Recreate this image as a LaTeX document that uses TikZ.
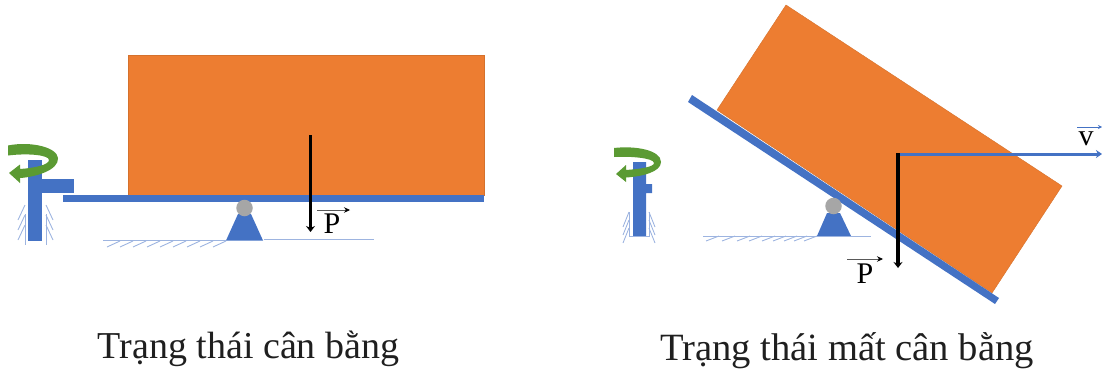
\documentclass[tikz,border=0pt]{standalone}
\usepackage{fontspec}
\setmainfont{Liberation Serif}
\usetikzlibrary{arrows.meta}
\definecolor{boxor}{HTML}{ED7D31}
\definecolor{beamb}{HTML}{4472C4}
\definecolor{rotg}{HTML}{5B9A33}
\definecolor{hatchb}{HTML}{9DB4E0}
\tikzset{
  boxfill/.style={fill=boxor,draw=boxor!90!black,line width=0.4pt},
  bluepart/.style={fill=beamb,draw=none},
  ball/.style={circle,fill=black!35,draw=none,minimum size=16.5pt,inner sep=0pt},
  hatchline/.style={draw=hatchb,line width=0.9pt},
  force/.style={draw=black,line width=3.2pt,-{Stealth[length=6pt,width=9pt]}},
  vecbar/.style={draw=black!65,line width=0.7pt,-{Stealth[length=6pt,width=5.5pt,color=black]}},
  captext/.style={font=\fontsize{38pt}{40pt}\selectfont,text=black!88,inner sep=0pt},
  capwide/.style={font=\fontsize{38.6pt}{40pt}\selectfont,text=black!88,inner sep=0pt},
  sym/.style={font=\fontsize{30pt}{30pt}\selectfont,inner sep=0pt},
  rotarrow/.style={fill=rotg,draw=none}
}
\begin{document}
\begin{tikzpicture}[x=1pt,y=-1pt]
\useasboundingbox (0,0) rectangle (1102,372);
% LEFT
\fill[boxfill] (128,55) rectangle (484,195);
\fill[bluepart] (63,195) rectangle (484,202);
\fill[bluepart] (28,160) rectangle (42,241);
\fill[bluepart] (28,179) rectangle (74,193);
\fill[bluepart] (226,240.5) -- (238,214) -- (251,214) -- (263,240.5) -- cycle;
\node[ball] (ballA) at (244.5,208) {};
\draw[hatchline] (264,239.5) -- (374,239.5);
\draw[hatchline] (103,240) -- (226,240);
\foreach \x in {107,120,133,147,160,173,187,200,213}
  \draw[hatchline] (\x,247) -- (\x+13,241);
\foreach \y in {215,225,235}{
  \draw[hatchline] (25,\y-10) -- (18,\y+5);
  \draw[hatchline] (46,\y-10) -- (53,\y+5);
}
\draw[hatchline] (25,214) -- (25,245);
\draw[hatchline] (46,214) -- (46,245);
\fill[rotarrow] (8,145.5) .. controls (30,141) and (57,147) .. (58,158) .. controls (59,170) and (36,177) .. (20,178) -- (20,183) -- (9,173) -- (20,164.5) -- (20,169) .. controls (34,168) and (49,165) .. (49,160) .. controls (49,155) and (28,153) .. (8,155.5) -- cycle;
\draw[force] (310.5,135) -- (310.5,232);
\coordinate (pa) at (317,210);
\coordinate (pb) at (350,210);
\draw[vecbar] (pa) -- (pb);
\node[sym] (pA) at (332,224) {P};
\node[captext] (capA) at (248.5,349) {Trạng thái cân bằng};
% RIGHT
\fill[boxfill] (786,5) -- (1062,186) -- (992,293) -- (717,110) -- cycle;
\fill[bluepart] (692,95) -- (999,298) -- (995,304) -- (688,102) -- cycle;
\fill[bluepart] (633,162) -- (646,162) -- (646,184) -- (652,184) -- (652,193) -- (646,193) -- (646,236) -- (633,236) -- cycle;
\fill[bluepart] (817,236) -- (827,213) -- (840,213) -- (851,236) -- cycle;
\node[ball] (ballB) at (833.5,206) {};
\draw[hatchline] (703,236) -- (871,236);
\foreach \x in {706,722,737,749,762,773,784,794,804}
  \draw[hatchline] (\x,241) -- (\x+13,236);
\foreach \y in {222,230,238}{
  \draw[hatchline] (629,\y-10) -- (623,\y+5);
  \draw[hatchline] (649,\y-10) -- (655,\y+5);
}
\draw[hatchline] (629,212) -- (629,236) -- (649,236) -- (649,212);
\fill[rotarrow] (614,148) .. controls (635,145.5) and (661,150) .. (661,162) .. controls (661,172) and (642,176.5) .. (626,177.5) -- (626,182) -- (616,174) -- (626,165) -- (626,170) .. controls (640,169) and (654,167) .. (654,163) .. controls (654,158) and (630,156) .. (614,157) -- cycle;
\draw[draw=beamb,line width=3pt,-{Stealth[length=6pt,width=8pt]}] (899,154) -- (1102,154);
\draw[force] (898,153) -- (898,268);
\coordinate (qa) at (847,259);
\coordinate (qb) at (883,259);
\draw[vecbar] (qa) -- (qb);
\node[sym] (pB) at (865,274) {P};
\coordinate (va) at (1077,127);
\coordinate (vb) at (1102,127);
\draw[draw=beamb,line width=0.7pt,-{Stealth[length=4pt,width=4pt]}] (va) -- (vb);
\node[sym] (vB) at (1086,139) {v};
\node[capwide] (capB) at (847,351) {Trạng thái mất cân bằng};
\end{tikzpicture}
\end{document}
